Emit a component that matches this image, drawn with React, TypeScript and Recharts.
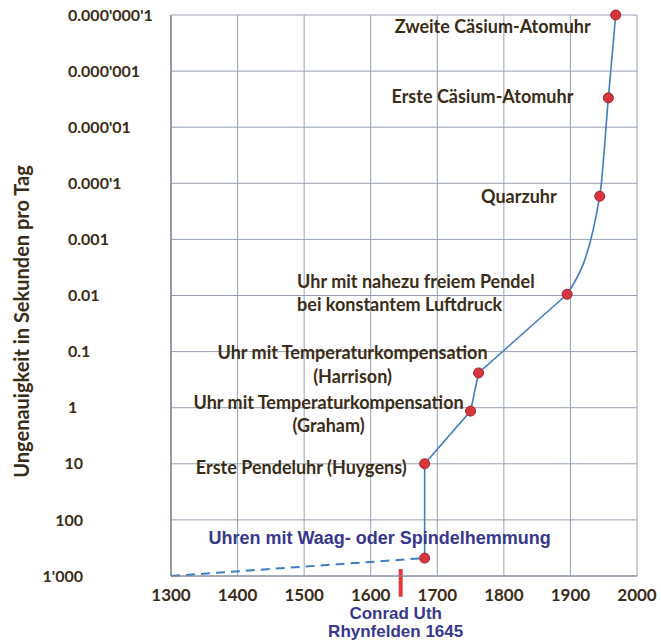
import React from 'react';
import { ComposedChart, Line, Scatter, XAxis, YAxis, CartesianGrid, ReferenceLine } from 'recharts';

// ---- data ----
const xTicks = [1300, 1400, 1500, 1600, 1700, 1800, 1900, 2000];
const yTicks = [1e3, 1e2, 1e1, 1, 1e-1, 1e-2, 1e-3, 1e-4, 1e-5, 1e-6, 1e-7];
const yTickLabels = ["1'000", '100', '10', '1', '0.1', '0.01', '0.001', "0.000'1", "0.000'01", "0.000'001", "0.000'000'1"];

const eventLabels = [
  ['Uhren mit Waag- oder Spindelhemmung'],
  ['Erste Pendeluhr (Huygens)'],
  ['Uhr mit Temperaturkompensation', '(Graham)'],
  ['Uhr mit Temperaturkompensation', '(Harrison)'],
  ['Uhr mit nahezu freiem Pendel', 'bei konstantem Luftdruck'],
  ['Quarzuhr'],
  ['Erste Cäsium-Atomuhr'],
  ['Zweite Cäsium-Atomuhr'],
];
const eventYears = [1681, 1681, 1750, 1762, 1895, 1944, 1957, 1968];
const eventInaccuracy = [480, 10, 1.15, 0.24, 0.0095, 0.00017, 0.000003, 0.0000001];

const dashedYears = [1300, 1681];
const dashedInaccuracy = [1000, 480];

const markerYear = 1645;
const markerRange = [750, 2340];
const markerLabel = ['Conrad Uth', 'Rhynfelden 1645'];

const yAxisTitle = 'Ungenauigkeit in Sekunden pro Tag';

// ---- derived tables ----
const events = eventYears.map((year, i) => ({ year, value: eventInaccuracy[i], idx: i }));
const earlyCurve = events.slice(0, 5);
const modernCurve = events.slice(4);
const dashedCurve = dashedYears.map((year, i) => ({ year, value: dashedInaccuracy[i] }));

// ---- layout / style ----
const W = 661;
const H = 642;
const TEXT = '#3a2c17';
const BLUE = '#38378e';
const LINE = '#3f7fc1';
const GRID = '#96a0b2';
const FONT = 'Lato, "DejaVu Sans", sans-serif';
const ARIAL = '"Liberation Sans", Arial, sans-serif';
const PLOT_BOTTOM = 576;

const labelLayout = [
  { anchor: 'middle', dx: -45, dy: -20, gap: 0, blue: true },
  { anchor: 'end', dx: -18, dy: 4, gap: 0 },
  { anchor: 'middle', dx: -142, dy: -8, gap: 23 },
  { anchor: 'middle', dx: -126, dy: -20, gap: 24 },
  { anchor: 'start', dx: -270, dy: -13, gap: 23 },
  { anchor: 'end', dx: -43, dy: 0, gap: 0 },
  { anchor: 'end', dx: -35, dy: -1, gap: 0 },
  { anchor: 'end', dx: -25, dy: 12, gap: 0 },
];

const EventShape = (props: any) => {
  const { cx, cy, payload } = props;
  const i = payload.idx;
  const lay: any = labelLayout[i];
  const lines = eventLabels[i];
  return (
    <g>
      {lines.map((t, k) => (
        <text
          key={k}
          x={cx + lay.dx}
          y={cy + lay.dy + k * lay.gap}
          dy="0.35em"
          textAnchor={lay.anchor}
          fill={lay.blue ? BLUE : TEXT}
          style={{
            fontFamily: lay.blue ? ARIAL : FONT,
            fontWeight: 700,
            fontSize: 18,
          }}
        >
          {t}
        </text>
      ))}
      <circle cx={cx} cy={cy} r={5} fill="#d8363d" stroke="#9c2329" strokeWidth={1} />
    </g>
  );
};

const XTick = (props: any) => {
  const { x, payload } = props;
  return (
    <text x={x} y={PLOT_BOTTOM + 19} dy="0.35em" textAnchor="middle" fill={TEXT}
      style={{ fontFamily: FONT, fontWeight: 700, fontSize: 17 }}>
      {payload.value}
    </text>
  );
};

const YTick = (props: any) => {
  const { y, payload } = props;
  const v = payload.value;
  const i = yTicks.findIndex((t) => Math.abs(Math.log10(t) - Math.log10(v)) < 1e-6);
  const label = i >= 0 ? yTickLabels[i] : String(v);
  const isInt = v >= 10;
  return (
    <text x={isInt ? 83 : 68} y={y} dy="0.35em" textAnchor={isInt ? 'end' : 'start'} fill={TEXT}
      style={{ fontFamily: FONT, fontWeight: 700, fontSize: 16 }}>
      {label}
    </text>
  );
};

const YTitle = (props: any) => {
  const vb = props.viewBox || { x: 0, y: 15, width: 171, height: 561 };
  const cx = vb.x + 22;
  const cy = vb.y + vb.height / 2 + 26;
  return (
    <text x={cx} y={cy} dy="0.35em" textAnchor="middle" transform={`rotate(-90 ${cx} ${cy})`} fill={TEXT}
      style={{ fontFamily: FONT, fontWeight: 700, fontSize: 20 }}>
      {yAxisTitle}
    </text>
  );
};

const MarkerLabel = (props: any) => {
  const vb = props.viewBox || {};
  const x = vb.x1 !== undefined ? vb.x1 : vb.x;
  const bottom = vb.y2 !== undefined ? Math.max(vb.y1, vb.y2) : vb.y + (vb.height || 0);
  return (
    <g>
      {markerLabel.map((t, k) => (
        <text key={k} x={x - 5} y={bottom + 16 + k * 18} dy="0.35em" textAnchor="middle" fill={BLUE}
          style={{ fontFamily: ARIAL, fontWeight: 700, fontSize: 17 }}>
          {t}
        </text>
      ))}
    </g>
  );
};

export default function App() {
  return (
    <div style={{ position: 'absolute', left: 0, top: 0, width: W, height: H, background: '#fff' }}>
      <ComposedChart width={W} height={H} margin={{ top: 15, right: 24, bottom: 0, left: 0 }}>
        <CartesianGrid stroke={GRID} strokeWidth={1} />
        <XAxis
          type="number"
          dataKey="year"
          domain={[1300, 2000]}
          ticks={xTicks}
          height={66}
          tickLine={false}
          axisLine={{ stroke: '#7d8798' }}
          tick={<XTick />}
          interval={0}
        />
        <YAxis
          type="number"
          dataKey="value"
          scale="log"
          domain={[1e-7, 1e3]}
          ticks={yTicks}
          reversed
          width={171}
          tickLine={false}
          axisLine={{ stroke: '#5d6678' }}
          tick={<YTick />}
          interval={0}
          label={<YTitle />}
        />
        <ReferenceLine
          segment={[{ x: markerYear, y: markerRange[0] }, { x: markerYear, y: markerRange[1] }]}
          stroke="#e8353b"
          strokeWidth={4}
          ifOverflow="visible"
          label={<MarkerLabel />}
        />
        <Line data={dashedCurve} dataKey="value" type="linear" stroke={LINE} strokeWidth={2}
          strokeDasharray="9 6" dot={false} isAnimationActive={false} />
        <Line data={earlyCurve} dataKey="value" type="linear" stroke={LINE} strokeWidth={1.6}
          dot={false} isAnimationActive={false} />
        <Line data={modernCurve} dataKey="value" type="monotone" stroke={LINE} strokeWidth={1.6}
          dot={false} isAnimationActive={false} />
        <Scatter data={events} dataKey="value" shape={<EventShape />} isAnimationActive={false} />
      </ComposedChart>
    </div>
  );
}
